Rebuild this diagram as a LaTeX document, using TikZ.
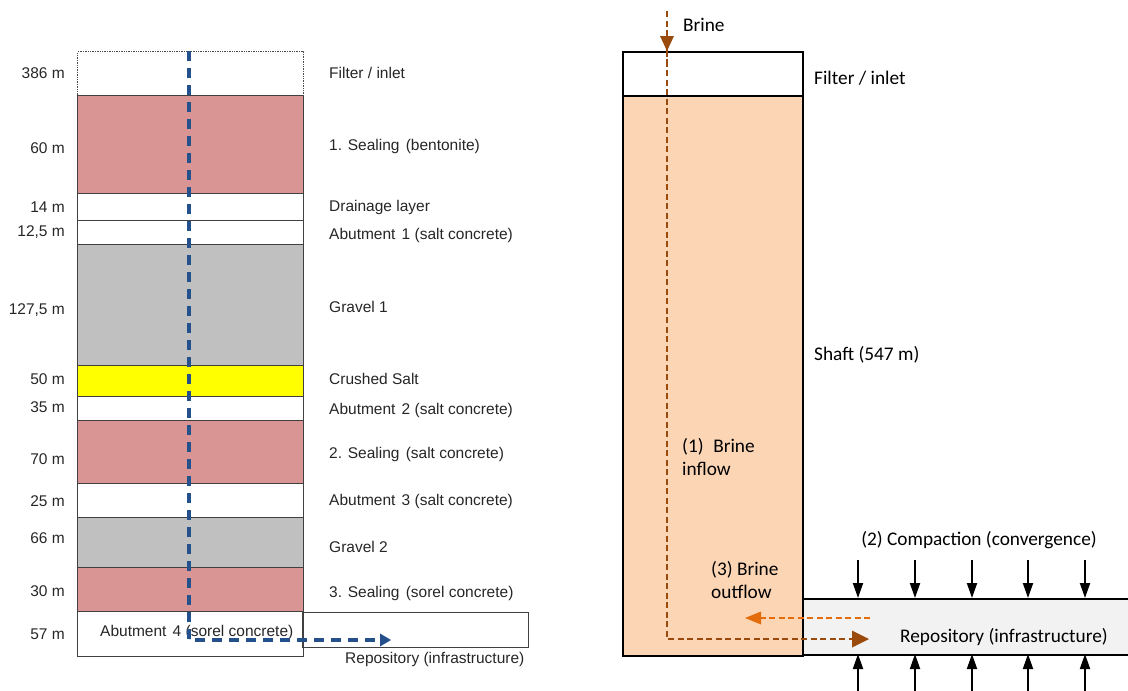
\documentclass[tikz,border=0pt]{standalone}
\usepackage{fontspec}
\setmainfont{Liberation Sans}
\newfontfamily\calfont{Carlito}
\usetikzlibrary{arrows.meta}
\definecolor{sealred}{HTML}{D99594}
\definecolor{gravgray}{HTML}{C0C0C0}
\definecolor{saltyel}{HTML}{FFFF00}
\definecolor{shaftfill}{HTML}{FCD5B5}
\definecolor{repofill}{HTML}{F2F2F2}
\definecolor{flowblue}{HTML}{24518C}
\definecolor{flowbrown}{HTML}{9A4A0C}
\definecolor{floworange}{HTML}{E46C0A}
\begin{document}
\begin{tikzpicture}[x=1pt,y=-1pt,
  layer/.style={draw=black!75,line width=1.4pt,inner sep=0pt,anchor=north west,minimum width=226pt},
  depth/.style={anchor=east,font=\fontsize{15.5}{18}\selectfont,text=black!85,inner sep=0pt},
  lname/.style={anchor=west,font=\fontsize{15.5}{18}\selectfont,text=black!85,inner sep=0pt},
  rtext/.style={font=\calfont\fontsize{19.3}{23}\selectfont,text=black,align=left,inner sep=0pt},
  blueflow/.style={draw=flowblue,line width=3.3pt,dash pattern=on 10pt off 7pt},
  brownflow/.style={draw=flowbrown,line width=2.9pt,dash pattern=on 6pt off 3.5pt},
  orangeflow/.style={draw=floworange,line width=2.9pt,dash pattern=on 6pt off 3.5pt},
  press/.style={draw=black,line width=1.9pt,-{Triangle[length=15pt,width=10pt]}}]
\useasboundingbox (0,0) rectangle (1128,691);
% ---------------- left column ----------------
\node[layer,draw=black!70,densely dotted,minimum height=44pt] (filt) at (77,51) {};
\node[layer,fill=sealred,minimum height=98pt] (s1) at (77,95) {};
\node[layer,minimum height=27pt] (dr) at (77,193) {};
\node[layer,minimum height=24pt] (a1) at (77,220) {};
\node[layer,fill=gravgray,minimum height=121pt] (g1) at (77,244) {};
\node[layer,fill=saltyel,minimum height=31pt] (cs) at (77,365) {};
\node[layer,minimum height=24pt] (a2) at (77,396) {};
\node[layer,fill=sealred,minimum height=63pt] (s2) at (77,420) {};
\node[layer,minimum height=34pt] (a3) at (77,483) {};
\node[layer,fill=gravgray,minimum height=50pt] (g2) at (77,517) {};
\node[layer,fill=sealred,minimum height=44pt] (s3) at (77,567) {};
\node[layer,minimum height=45pt] (a4) at (77,611) {};
\node[layer,minimum width=226pt,minimum height=35pt] (repl) at (302,612) {};
\node[font=\fontsize{15.5}{18}\selectfont,text=black!85,anchor=west,inner sep=0pt] (a4t) at (100,632) {Abutment\hspace{0.4em}4 (sorel concrete)};
\node[font=\fontsize{15.5}{18}\selectfont,text=black!85,anchor=west,inner sep=0pt] (replt) at (345,659) {Repository (infrastructure)};
% depths
\node[depth] (d1) at (65,73) {386 m};
\node[depth] (d2) at (65,148) {60 m};
\node[depth] (d3) at (65,207) {14 m};
\node[depth] (d4) at (65,232) {12,5 m};
\node[depth] (d5) at (65,310) {127,5 m};
\node[depth] (d6) at (65,379) {50 m};
\node[depth] (d7) at (65,407) {35 m};
\node[depth] (d8) at (65,459) {70 m};
\node[depth] (d9) at (65,501) {25 m};
\node[depth] (d10) at (65,538) {66 m};
\node[depth] (d11) at (65,591) {30 m};
\node[depth] (d12) at (65,634) {57 m};
% names
\node[lname] (n1) at (329,73) {Filter / inlet};
\node[lname] (n2) at (329,146) {1. Sealing\hspace{0.4em}(bentonite)};
\node[lname] (n3) at (329,207) {Drainage layer};
\node[lname] (n4) at (329,235) {Abutment\hspace{0.4em}1 (salt concrete)};
\node[lname] (n5) at (329,307) {Gravel 1};
\node[lname] (n6) at (329,379) {Crushed Salt};
\node[lname] (n7) at (329,410) {Abutment\hspace{0.4em}2 (salt concrete)};
\node[lname] (n8) at (329,454) {2. Sealing\hspace{0.4em}(salt concrete)};
\node[lname] (n9) at (329,501) {Abutment\hspace{0.4em}3 (salt concrete)};
\node[lname] (n10) at (329,547) {Gravel 2};
\node[lname] (n11) at (329,593) {3. Sealing\hspace{0.4em}(sorel concrete)};
% blue flow
\coordinate (bA) at (189,51);
\coordinate (bB) at (189,640);
\coordinate (bC) at (391,640);
\draw[blueflow] (bA) -- (bB) -- ([xshift=-9pt]bC);
\fill[flowblue] (bC) -- ++(-11,-6.5) -- ++(0,13) -- cycle;
% ---------------- right column ----------------
\node[draw=black,line width=1.6pt,fill=shaftfill,inner sep=0pt,anchor=north west,minimum width=180pt,minimum height=560pt] (shaft) at (622,95) {};
\node[draw=black,line width=1.6pt,fill=white,inner sep=0pt,anchor=north west,minimum width=180pt,minimum height=44pt] (rfilt) at (622,51) {};
\node[draw=black,line width=1.6pt,fill=repofill,inner sep=0pt,anchor=north west,minimum width=330pt,minimum height=56pt] (repo) at (802,598) {};
\node[rtext,anchor=west] (brt) at (683,25) {Brine};
\node[rtext,anchor=west] (rft) at (814,78) {Filter / inlet};
\node[rtext,anchor=west] (sht) at (814,355) {Shaft (547 m)};
\node[rtext,anchor=west] (inft) at (682,457) {(1)\hspace{0.5em}Brine\\inflow};
\node[rtext,anchor=west] (outft) at (711,580) {(3) Brine\\outflow};
\node[rtext] (compt) at (979,540) {(2) Compaction (convergence)};
\node[rtext,anchor=west] (repot) at (900,637) {Repository (infrastructure)};
% brine flows
\coordinate (rA) at (667,11);
\coordinate (rB) at (667,51);
\coordinate (rC) at (667,639);
\coordinate (rD) at (869,639);
\draw[brownflow] (rA) -- ([yshift=-12pt]rB);
\fill[flowbrown] (rB) -- ++(-7,-15) -- ++(14,0) -- cycle;
\draw[brownflow] (rB) -- (rC) -- ([xshift=-15pt]rD);
\fill[flowbrown] (rD) -- ++(-17,-8.5) -- ++(0,17) -- cycle;
\coordinate (oA) at (870,618);
\coordinate (oB) at (745,618);
\draw[orangeflow] (oA) -- ([xshift=13pt]oB);
\fill[floworange] (oB) -- ++(16,-6.5) -- ++(0,13) -- cycle;
% compaction arrows
\foreach \i/\x in {1/858,2/915,3/972,4/1028,5/1085}{
  \coordinate (ta\i) at (\x,560);
  \coordinate (tb\i) at (\x,598);
  \coordinate (ba\i) at (\x,692);
  \coordinate (bb\i) at (\x,654);
  \draw[press] (ta\i) -- (tb\i);
  \draw[press] (ba\i) -- (bb\i);
}
\end{tikzpicture}
\end{document}
